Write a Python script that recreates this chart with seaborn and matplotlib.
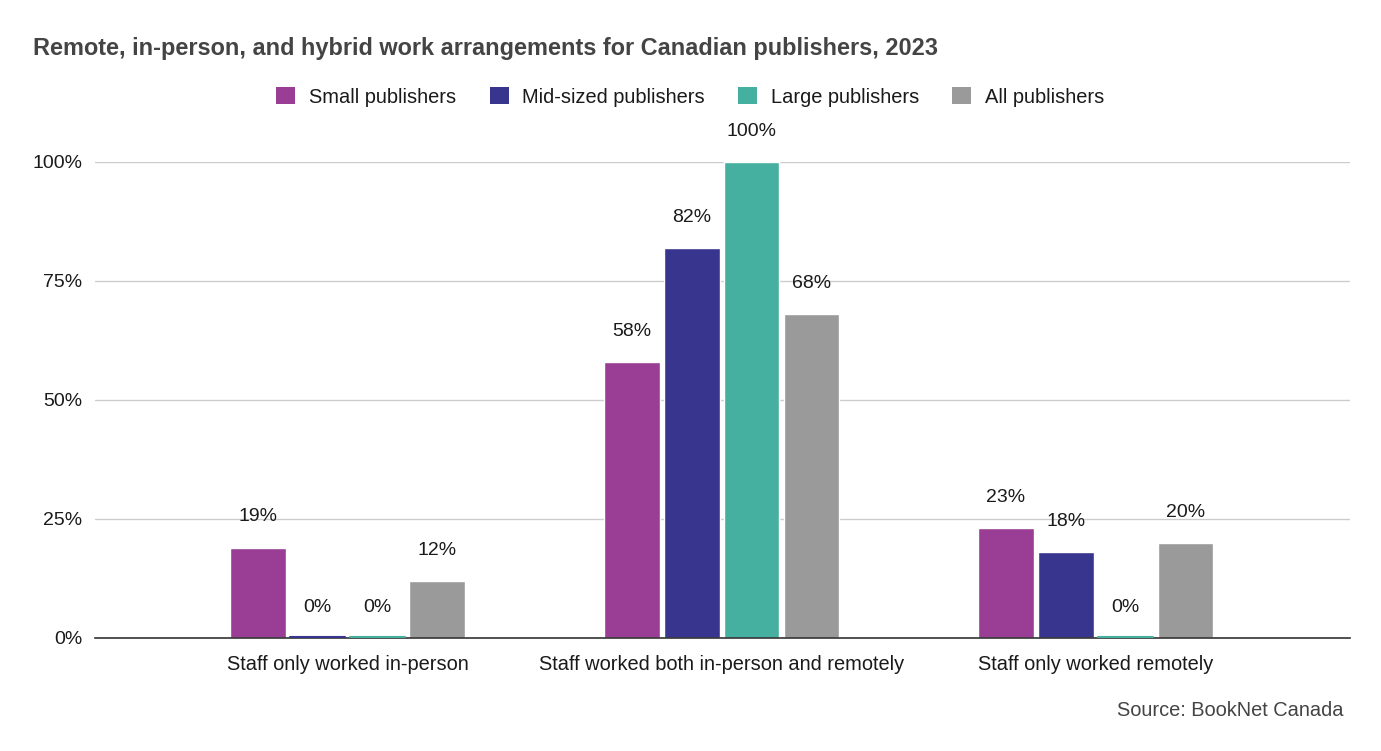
import matplotlib
matplotlib.use("Agg")
import matplotlib.pyplot as plt
from matplotlib.patches import Patch
import pandas as pd
import seaborn as sns

categories = ["Staff only worked in-person",
              "Staff worked both in-person and remotely",
              "Staff only worked remotely"]
groups = ["Small publishers", "Mid-sized publishers", "Large publishers", "All publishers"]
small = [19, 58, 23]
mid = [0, 82, 18]
large = [0, 100, 0]
allpub = [12, 68, 20]
colors = ["#9a3d94", "#37358e", "#45afa0", "#9a9a9a"]

df = pd.DataFrame({
    "category": categories * 4,
    "group": [g for g in groups for _ in categories],
    "value": small + mid + large + allpub,
})

sns.set_theme(style="white")
plt.rcParams["font.family"] = ["Liberation Sans", "DejaVu Sans"]

fig = plt.figure(figsize=(13.81, 7.51), dpi=100)
ax = fig.add_axes([0.0688, 0.1505, 0.9088, 0.6338])

sns.barplot(data=df, x="category", y="value", hue="group", order=categories,
            hue_order=groups, palette=colors, width=0.64, gap=0.07,
            saturation=1, ax=ax, legend=False)

for cont, g in zip(ax.containers, groups):
    for bar, v in zip(cont, df.loc[df["group"] == g, "value"]):
        x = bar.get_x() + bar.get_width() / 2
        if v == 0:
            ax.plot([bar.get_x(), bar.get_x() + bar.get_width()], [0.15, 0.15],
                    color=bar.get_facecolor(), lw=1.5, zorder=3)
        ax.annotate(f"{v}%", (x, v), xytext=(0, 22), textcoords="offset points",
                    ha="center", va="center", fontsize=14, color="#1a1a1a",
                    annotation_clip=False)

ax.set_xlim(-0.675, 2.68)
ax.set_ylim(0, 100)
ax.set_yticks([0, 25, 50, 75, 100])
ax.set_yticklabels(["0%", "25%", "50%", "75%", "100%"])
ax.yaxis.grid(True, color="#cccccc", lw=1)
ax.set_axisbelow(True)
for s in ["top", "right", "left"]:
    ax.spines[s].set_visible(False)
ax.spines["bottom"].set_color("#333333")
ax.spines["bottom"].set_linewidth(1.2)
ax.tick_params(axis="both", length=0, colors="#1a1a1a")
ax.tick_params(axis="x", pad=12, labelsize=14.4)
ax.tick_params(axis="y", pad=9, labelsize=14)
ax.set_xlabel("")
ax.set_ylabel("")

fig.text(0.024, 0.936, "Remote, in-person, and hybrid work arrangements for Canadian publishers, 2023",
         fontsize=16.9, fontweight="bold", color="#444444", va="center", ha="left")

handles = [Patch(facecolor=c, edgecolor="none") for c in colors]
fig.legend(handles, groups, loc="center", bbox_to_anchor=(0.5, 0.871), ncol=4,
           frameon=False, fontsize=14.4, handlelength=0.95, handleheight=0.95,
           handletextpad=0.7, columnspacing=1.65, labelcolor="#1a1a1a")

fig.text(0.973, 0.054, "Source: BookNet Canada", fontsize=14.4, color="#444444",
         ha="right", va="center")

fig.savefig("out.png", dpi=100)
